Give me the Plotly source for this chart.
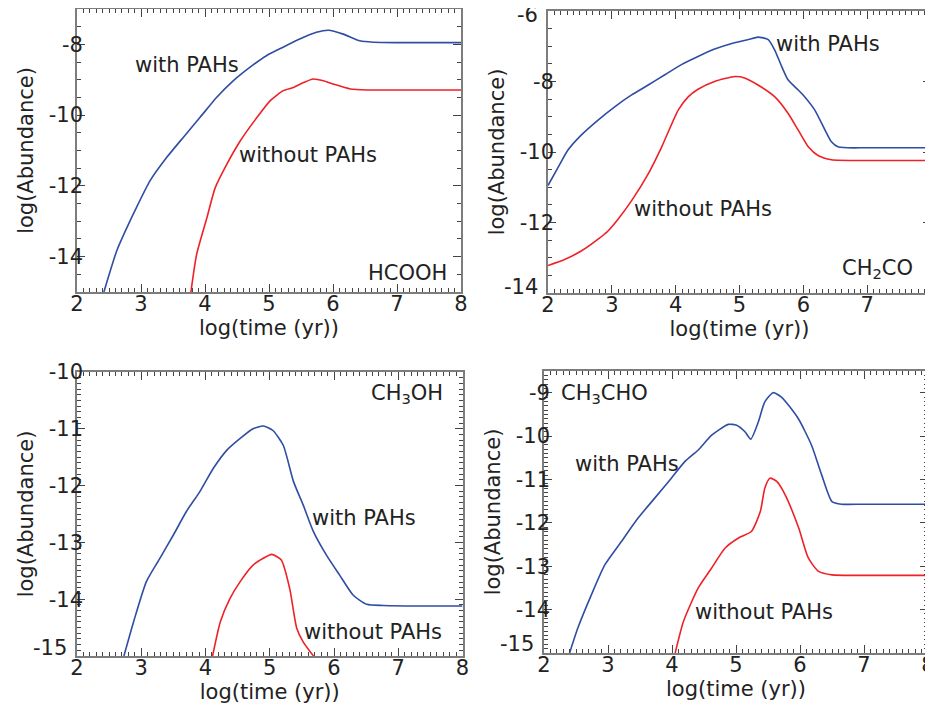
import plotly.graph_objects as go

# ---------------- data ----------------
# Panel 1: HCOOH
hcooh_with_x = [2.42, 2.62, 2.78, 2.93, 3.14, 3.40, 3.66, 3.92, 4.18, 4.44, 4.70, 4.96, 5.22, 5.48, 5.74, 5.93, 6.16, 6.42, 6.63, 7.0, 8.0]
hcooh_with_y = [-15.0, -13.84, -13.18, -12.61, -11.86, -11.2, -10.63, -10.07, -9.5, -9.03, -8.65, -8.32, -8.08, -7.85, -7.66, -7.6, -7.71, -7.9, -7.94, -7.95, -7.95]
hcooh_without_x = [3.78, 3.87, 4.03, 4.16, 4.34, 4.55, 4.81, 5.02, 5.22, 5.38, 5.54, 5.69, 5.85, 6.0, 6.27, 6.53, 7.0, 8.0]
hcooh_without_y = [-15.0, -13.93, -12.9, -12.05, -11.39, -10.73, -10.07, -9.59, -9.31, -9.22, -9.08, -8.98, -9.03, -9.12, -9.26, -9.29, -9.29, -9.29]

# Panel 2: CH2CO
ch2co_with_x = [2.0, 2.16, 2.31, 2.52, 2.78, 3.05, 3.31, 3.57, 3.83, 4.09, 4.35, 4.61, 4.88, 5.14, 5.29, 5.45, 5.55, 5.66, 5.76, 5.92, 6.02, 6.18, 6.34, 6.44, 6.55, 7.0, 8.0]
ch2co_with_y = [-10.95, -10.43, -9.95, -9.52, -9.1, -8.71, -8.38, -8.1, -7.81, -7.52, -7.29, -7.08, -6.92, -6.81, -6.74, -6.81, -7.1, -7.57, -7.95, -8.24, -8.43, -8.81, -9.38, -9.71, -9.86, -9.88, -9.88]
ch2co_without_x = [2.0, 2.26, 2.52, 2.78, 2.94, 3.1, 3.31, 3.57, 3.78, 4.04, 4.2, 4.35, 4.61, 4.93, 5.08, 5.29, 5.55, 5.76, 5.92, 6.08, 6.23, 6.44, 7.0, 8.0]
ch2co_without_y = [-13.22, -13.05, -12.81, -12.48, -12.24, -11.9, -11.38, -10.62, -9.86, -8.81, -8.43, -8.22, -8.0, -7.86, -7.9, -8.1, -8.43, -8.9, -9.38, -9.86, -10.1, -10.22, -10.24, -10.24]

# Panel 3: CH3OH
ch3oh_with_x = [2.73, 2.88, 3.08, 3.29, 3.5, 3.7, 3.91, 4.12, 4.33, 4.54, 4.74, 4.9, 5.05, 5.21, 5.37, 5.52, 5.68, 5.88, 6.09, 6.3, 6.51, 6.77, 7.5, 8.0]
ch3oh_with_y = [-15.0, -14.4, -13.69, -13.28, -12.87, -12.46, -12.11, -11.7, -11.38, -11.17, -11.0, -10.95, -11.03, -11.29, -11.93, -12.34, -12.81, -13.22, -13.58, -13.93, -14.09, -14.11, -14.12, -14.12]
ch3oh_without_x = [4.11, 4.23, 4.38, 4.54, 4.74, 4.9, 5.03, 5.18, 5.31, 5.42, 5.52, 5.68]
ch3oh_without_y = [-15.0, -14.4, -13.99, -13.69, -13.4, -13.28, -13.21, -13.31, -13.81, -14.51, -14.75, -15.0]

# Panel 4: CH3CHO
ch3cho_with_x = [2.4, 2.53, 2.74, 2.95, 3.21, 3.47, 3.73, 3.99, 4.2, 4.41, 4.62, 4.88, 5.01, 5.14, 5.23, 5.35, 5.45, 5.58, 5.71, 5.97, 6.18, 6.34, 6.5, 6.65, 7.0, 8.0]
ch3cho_with_y = [-15.0, -14.42, -13.66, -12.97, -12.43, -11.89, -11.43, -10.97, -10.59, -10.32, -9.98, -9.73, -9.75, -9.9, -10.07, -9.67, -9.21, -9.0, -9.1, -9.59, -10.21, -10.9, -11.51, -11.57, -11.57, -11.57]
ch3cho_without_x = [4.05, 4.18, 4.41, 4.62, 4.83, 5.04, 5.24, 5.38, 5.45, 5.53, 5.64, 5.77, 5.98, 6.13, 6.29, 6.5, 7.0, 8.0]
ch3cho_without_y = [-15.0, -14.27, -13.5, -13.04, -12.58, -12.35, -12.2, -11.74, -11.2, -10.97, -11.05, -11.36, -12.12, -12.81, -13.12, -13.2, -13.21, -13.21]

# panel labels and axes
species = ["HCOOH", "CH<sub>2</sub>CO", "CH<sub>3</sub>OH", "CH<sub>3</sub>CHO"]
y_ranges = [[-15, -7], [-14, -6], [-15, -10], [-15, -8.5]]
y_tickvals = [
    [-14, -12, -10, -8],
    [-14, -12, -10, -8, -6],
    [-15, -14, -13, -12, -11, -10],
    [-15, -14, -13, -12, -11, -10, -9],
]
y_minor = [0.5, 0.5, 0.1, 0.1]
x_range = [2, 8]
x_tickvals = [2, 3, 4, 5, 6, 7, 8]
# edge tick labels that sit nudged inside the frame in the original (panel, value, pixel shift, + = up)
edge_labels = [(1, -6, -4), (1, -14, 6), (2, -15, 8), (3, -15, 9)]

# ---------------- layout geometry (window pixels) ----------------
OFF = 8                      # default body margin of the html page
W, H = 933 - OFF, 707 - OFF
boxes = [  # left, right, top, bottom in window px
    (77, 461, 9, 292),
    (548, 931, 11, 293),
    (77, 462.5, 372, 656),
    (544, 928, 371, 653),
]

BLUE = "#2f4da3"
RED = "#ee2127"
TXT = "#222222"
AXLINE = "#7d7d7d"
TICK = "#444444"
FONT = "DejaVu Sans"
FS = 21


def fmt(v):
    return f"{v:g}"


fig = go.Figure()

series = [
    (hcooh_with_x, hcooh_with_y, hcooh_without_x, hcooh_without_y),
    (ch2co_with_x, ch2co_with_y, ch2co_without_x, ch2co_without_y),
    (ch3oh_with_x, ch3oh_with_y, ch3oh_without_x, ch3oh_without_y),
    (ch3cho_with_x, ch3cho_with_y, ch3cho_without_x, ch3cho_without_y),
]

for i, (wx, wy, ox, oy) in enumerate(series):
    xa = "x" if i == 0 else f"x{i+1}"
    ya = "y" if i == 0 else f"y{i+1}"
    fig.add_trace(go.Scatter(x=wx, y=wy, mode="lines", line=dict(color=BLUE, width=1.6, shape="spline", smoothing=0.6),
                             xaxis=xa, yaxis=ya, showlegend=False, cliponaxis=True))
    fig.add_trace(go.Scatter(x=ox, y=oy, mode="lines", line=dict(color=RED, width=1.6, shape="spline", smoothing=0.6),
                             xaxis=xa, yaxis=ya, showlegend=False, cliponaxis=True))

layout = dict(width=W, height=H, margin=dict(l=0, r=0, t=0, b=0, autoexpand=False),
              paper_bgcolor="white", plot_bgcolor="white",
              font=dict(family=FONT, size=FS, color=TXT))

edge_set = {(p, v) for p, v, _ in edge_labels}

for i, (l, r, t, b) in enumerate(boxes):
    l, r, t, b = l - OFF, r - OFF, t - OFF, b - OFF
    xk = "xaxis" if i == 0 else f"xaxis{i+1}"
    yk = "yaxis" if i == 0 else f"yaxis{i+1}"
    ya = "y" if i == 0 else f"y{i+1}"
    xa = "x" if i == 0 else f"x{i+1}"
    ytext = ["" if (i, v) in edge_set else fmt(v) for v in y_tickvals[i]]
    layout[xk] = dict(domain=[l / W, r / W], anchor=ya, range=x_range,
                      tickmode="array", tickvals=x_tickvals, ticktext=[fmt(v) for v in x_tickvals],
                      ticks="inside", ticklen=8, tickwidth=1, tickcolor=TICK,
                      showline=True, linecolor=AXLINE, linewidth=1.6, mirror="ticks",
                      showgrid=False, zeroline=False, automargin=False, ticklabeloverflow="allow",
                      ticklabelstandoff=-8,
                      minor=dict(tickmode="linear", tick0=0, dtick=0.1, ticklen=4, ticks="inside",
                                 tickcolor=TICK, tickwidth=1, showgrid=False),
                      title=dict(text="log(time (yr))", standoff=2, font=dict(size=FS)),
                      tickfont=dict(size=FS))
    layout[yk] = dict(domain=[1 - b / H, 1 - t / H], anchor=xa, range=y_ranges[i],
                      tickmode="array", tickvals=y_tickvals[i], ticktext=ytext,
                      ticks="inside", ticklen=8, tickwidth=1, tickcolor=TICK,
                      showline=True, linecolor=AXLINE, linewidth=1.6, mirror="ticks",
                      showgrid=False, zeroline=False, automargin=False, ticklabeloverflow="allow",
                      ticklabelstandoff=-12,
                      minor=dict(tickmode="linear", dtick=y_minor[i], tick0=0, ticklen=4, ticks="inside",
                                 tickcolor=TICK, tickwidth=1, showgrid=False),
                      title=dict(text="log(Abundance)", standoff=9, font=dict(size=FS)),
                      tickfont=dict(size=FS))
fig.update_layout(**layout)

# edge tick labels, nudged into the frame as in the original
for p, v, shift in edge_labels:
    xa = "x" if p == 0 else f"x{p+1}"
    ya = "y" if p == 0 else f"y{p+1}"
    fig.add_annotation(x=0, xref=f"{xa} domain", y=v, yref=ya, text=fmt(v), showarrow=False,
                       xanchor="right", yanchor="middle", xshift=-8, yshift=shift,
                       font=dict(family=FONT, size=FS, color=TXT))

# text labels (data coordinates)
labels = [
    (0, "with PAHs", 3.72, -8.57), (0, "without PAHs", 5.61, -11.14), (0, species[0], 7.17, -14.45),
    (1, "with PAHs", 6.38, -6.95), (1, "without PAHs", 4.43, -11.61), (1, species[1], 7.16, -13.32),
    (2, species[2], 7.13, -10.38), (2, "with PAHs", 6.46, -12.57), (2, "without PAHs", 6.61, -14.57),
    (3, species[3], 2.95, -9.02), (3, "with PAHs", 3.3, -10.65), (3, "without PAHs", 5.43, -14.06),
]
for i, txt, x, y in labels:
    xa = "x" if i == 0 else f"x{i+1}"
    ya = "y" if i == 0 else f"y{i+1}"
    fig.add_annotation(x=x, y=y, xref=xa, yref=ya, text=txt, showarrow=False,
                       xanchor="center", yanchor="middle", font=dict(family=FONT, size=FS, color=TXT))

fig.write_html("out.html")
